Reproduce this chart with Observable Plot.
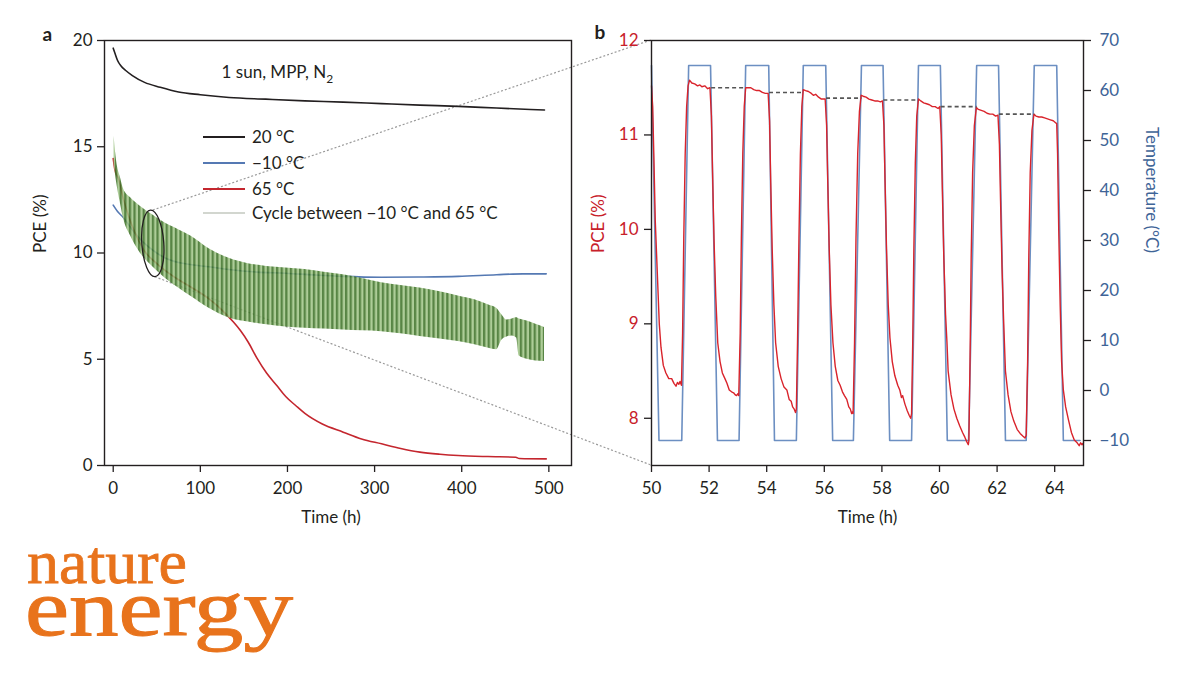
<!DOCTYPE html>
<html><head><meta charset="utf-8">
<script src="https://cdn.jsdelivr.net/npm/d3@7"></script>
<script src="https://cdn.jsdelivr.net/npm/@observablehq/plot@0.6"></script>
<style>
body{margin:0;background:#fff;}
#root{position:relative;width:1200px;height:676px;overflow:hidden;background:#fff;}
#root > svg{position:absolute;top:0;}
</style></head><body><div id="root"></div>
<script>
// ---------- Panel a data ----------
const timeTicksA = [0, 100, 200, 300, 400, 500];
const pceTicksA = [0, 5, 10, 15, 20];
const pce20C = [[0,19.64],[2,19.4],[5,19.06],[9,18.8],[14,18.6],[22,18.35],[36,18.03],[54,17.8],[75,17.58],[100,17.45],[133,17.32],[175,17.24],[220,17.16],[264,17.1],[308,17.03],[352,16.96],[396,16.9],[440,16.82],[495,16.73]];
const pceMinus10C = [[0,12.25],[5,11.95],[12,11.65],[20,11.2],[31,10.65],[45,10.15],[58,9.8],[75,9.55],[90,9.45],[110,9.35],[133,9.22],[165,9.1],[198,9.05],[230,8.97],[264,8.9],[308,8.86],[350,8.87],[396,8.9],[440,8.98],[470,9.02],[497,9.02]];
const pce65C = [[0,14.45],[2,13.9],[6,13.5],[12,12.5],[18,11.7],[24,11.05],[35,10.15],[50,9.5],[69,8.9],[89,8.4],[108,7.9],[120,7.5],[130,7.1],[138,6.75],[146,6.35],[155,5.8],[165,5.05],[176,4.35],[188,3.75],[198,3.25],[210,2.8],[220,2.45],[240,1.95],[264,1.57],[285,1.25],[308,1.02],[330,0.8],[352,0.63],[375,0.53],[396,0.47],[430,0.42],[462,0.39],[466,0.33],[497,0.31]];
const bandTime = [1,4,8,12,20,31,45,60,75,89,110,133,155,176,198,220,242,264,286,308,330,352,375,396,415,431,440,446,452,458,463,466,475,485,495];
const bandLow  = [14.2,13.3,12.4,11.6,10.8,10.0,9.37,8.8,8.35,7.96,7.4,6.94,6.75,6.62,6.52,6.46,6.42,6.38,6.34,6.3,6.2,6.07,5.95,5.83,5.68,5.52,5.45,5.9,6.05,6.1,6.0,5.15,5.0,4.92,4.9];
const bandHigh = [15.5,14.3,13.6,13.0,12.6,12.2,11.8,11.4,11.1,10.8,10.2,9.75,9.5,9.37,9.3,9.22,9.1,8.98,8.8,8.6,8.47,8.35,8.18,7.98,7.8,7.55,7.4,7.1,6.85,6.9,6.95,6.9,6.8,6.65,6.5];
const zoomWindow = {t: 46, pce: 10.43, halfT: 12.6, halfPce: 1.57};
const legendLabels = ["20 °C", "\u221210 °C", "65 °C", "Cycle between \u221210 °C and 65 °C"];

// ---------- Panel b data ----------
const timeTicksB = [50, 52, 54, 56, 58, 60, 62, 64];
const pceTicksB = [8, 9, 10, 11, 12];
const tempTicks = [-10, 0, 10, 20, 30, 40, 50, 60, 70];
const tempTime  = [50,50.26,51.05,51.29,52.05,52.29,53.04,53.27,54.07,54.27,55.03,55.27,56.05,56.29,57.01,57.29,58.04,58.27,59.03,59.27,60.03,60.27,61.01,61.29,62.05,62.29,63.01,63.29,64.07,64.3,64.88];
const tempValue = [65,-10,-10,65,65,-10,-10,65,65,-10,-10,65,65,-10,-10,65,65,-10,-10,65,65,-10,-10,65,65,-10,-10,65,65,-10,-10];
const pceCycling = [
 [50.00,11.52],[50.04,11.3],[50.08,10.8],[50.13,10.1],[50.2,9.55],[50.27,9.0],[50.33,8.75],[50.41,8.56],[50.5,8.48],[50.6,8.42],[50.7,8.42],[50.78,8.37],[50.85,8.34],[50.9,8.38],[50.95,8.36],[50.99,8.39],[51.04,8.35],
 [51.08,8.9],[51.12,9.9],[51.17,10.8],[51.22,11.3],[51.27,11.52],[51.32,11.58],
 [51.4,11.55],[51.5,11.54],[51.6,11.52],[51.68,11.53],[51.75,11.51],[51.85,11.52],[51.95,11.49],[52.03,11.5],
 [52.08,11.2],[52.12,10.6],[52.17,9.9],[52.23,9.3],[52.3,8.8],[52.38,8.6],[52.46,8.48],[52.55,8.42],[52.62,8.37],[52.7,8.3],[52.78,8.28],[52.85,8.27],[52.9,8.25],[52.95,8.24],[53.0,8.26],[53.03,8.24],
 [53.08,8.9],[53.12,9.9],[53.17,10.8],[53.22,11.3],[53.27,11.5],
 [53.35,11.5],[53.45,11.5],[53.55,11.48],[53.65,11.47],[53.75,11.47],[53.85,11.45],[53.95,11.44],[54.05,11.44],
 [54.1,11.15],[54.14,10.5],[54.19,9.8],[54.25,9.2],[54.31,8.8],[54.4,8.55],[54.5,8.42],[54.6,8.33],[54.7,8.3],[54.78,8.2],[54.85,8.18],[54.9,8.12],[54.95,8.1],[55.0,8.06],[55.03,8.1],
 [55.07,8.8],[55.12,9.9],[55.17,10.8],[55.22,11.3],[55.27,11.48],
 [55.35,11.47],[55.45,11.46],[55.55,11.44],[55.62,11.42],[55.7,11.43],[55.8,11.4],[55.9,11.38],[56.03,11.38],
 [56.08,11.1],[56.12,10.5],[56.17,9.8],[56.23,9.2],[56.3,8.8],[56.38,8.55],[56.47,8.4],[56.55,8.35],[56.63,8.28],[56.7,8.24],[56.78,8.2],[56.85,8.12],[56.9,8.1],[56.95,8.05],[56.98,8.07],[57.0,8.05],
 [57.05,8.8],[57.1,9.9],[57.16,10.8],[57.22,11.25],[57.28,11.42],
 [57.35,11.41],[57.45,11.4],[57.55,11.38],[57.65,11.37],[57.75,11.36],[57.85,11.36],[57.95,11.35],[58.02,11.36],
 [58.07,11.1],[58.11,10.5],[58.16,9.8],[58.22,9.2],[58.28,8.85],[58.36,8.6],[58.45,8.45],[58.55,8.35],[58.62,8.3],[58.68,8.22],[58.72,8.24],[58.8,8.15],[58.88,8.08],[58.95,8.03],[59.0,8.0],[59.03,8.05],
 [59.07,8.8],[59.11,9.8],[59.16,10.7],[59.21,11.2],[59.27,11.38],
 [59.35,11.36],[59.45,11.34],[59.55,11.33],[59.65,11.32],[59.75,11.3],[59.85,11.3],[59.95,11.28],[60.01,11.3],
 [60.06,11.0],[60.1,10.4],[60.15,9.7],[60.21,9.1],[60.26,8.8],[60.3,8.5],[60.4,8.25],[60.5,8.1],[60.6,8.0],[60.7,7.92],[60.8,7.85],[60.88,7.8],[60.95,7.75],[61.0,7.72],[61.02,7.76],
 [61.06,8.6],[61.1,9.7],[61.15,10.6],[61.21,11.1],[61.28,11.29],
 [61.35,11.27],[61.45,11.26],[61.55,11.25],[61.65,11.23],[61.75,11.22],[61.85,11.22],[61.95,11.2],[62.03,11.21],
 [62.08,10.9],[62.12,10.3],[62.17,9.6],[62.23,9.0],[62.29,8.5],[62.38,8.25],[62.48,8.07],[62.58,7.97],[62.7,7.88],[62.8,7.84],[62.9,7.81],[62.97,7.79],[63.01,7.82],
 [63.06,8.6],[63.1,9.7],[63.15,10.6],[63.21,11.05],[63.28,11.22],
 [63.35,11.2],[63.45,11.19],[63.55,11.19],[63.65,11.18],[63.75,11.17],[63.85,11.16],[63.95,11.15],[64.03,11.13],[64.07,11.12],
 [64.1,10.8],[64.14,10.0],[64.19,9.2],[64.24,8.6],[64.3,8.3],[64.38,8.12],[64.48,7.98],[64.58,7.85],[64.68,7.77],[64.78,7.74],[64.85,7.71],[64.9,7.74],[64.95,7.72],[65.0,7.74]
];
const dashStart = [52.07, 54.08, 56.06, 58.05, 60.04, 62.06];
const dashEnd   = [53.27, 55.27, 57.29, 59.27, 61.29, 63.29];
const dashLevel = [11.5, 11.45, 11.39, 11.37, 11.3, 11.22];

// ---------- drawing ----------
const FONT = "Lato, 'Open Sans', 'DejaVu Sans', sans-serif";
const INK = "#231f20", BLUE_A = "#5579b3", RED_A = "#c4262e", BLUE_B = "#6c8fc2", RED_B = "#d9232b";
const PCE_RED = "#c8202a", TEMP_BLUE = "#3e6497";
const rows = a => a.map(([t, v]) => ({t, v}));
const bandRows = bandTime.map((t, i) => ({t, lo: bandLow[i], hi: bandHigh[i]}));
const root = document.getElementById("root");
const fmtInt = d => String(Math.round(d)).replace("-", "\u2212");

const plotA = Plot.plot({
  width: 600, height: 545,
  marginLeft: 104, marginRight: 29, marginTop: 40, marginBottom: 80,
  style: {background: "transparent", fontFamily: FONT, fontSize: "17px", color: INK},
  x: {domain: [-10, 526]},
  y: {domain: [0, 20]},
  marks: [
    Plot.line(rows(pce20C), {x: "t", y: "v", stroke: INK, strokeWidth: 1.6, curve: "monotone-x"}),
    Plot.line(rows(pceMinus10C), {x: "t", y: "v", stroke: BLUE_A, strokeWidth: 1.6, curve: "monotone-x"}),
    Plot.line(rows(pce65C), {x: "t", y: "v", stroke: RED_A, strokeWidth: 1.6, curve: "monotone-x"}),
    Plot.areaY(bandRows, {x: "t", y1: "lo", y2: "hi", fill: "url(#stripes)", fillOpacity: 0.85, curve: "monotone-x"}),
    Plot.frame({stroke: INK, strokeWidth: 1.4}),
    Plot.axisX({ticks: timeTicksA, tickFormat: fmtInt, tickSize: 7, tickPadding: 9, label: null, stroke: INK, strokeWidth: 1.3}),
    Plot.axisY({ticks: pceTicksA, tickFormat: fmtInt, tickSize: 7, tickPadding: 5, label: null, stroke: INK, strokeWidth: 1.3}),
    Plot.text([{t: 250}], {x: "t", frameAnchor: "bottom", dy: 57, text: () => "Time (h)"}),
    Plot.text(["PCE (%)"], {frameAnchor: "left", dx: -64, rotate: -90}),
    Plot.text(["a"], {frameAnchor: "top-left", dx: -62, dy: -13, fontWeight: "bold", fontSize: 19})
  ]
});
plotA.style.left = "0px"; plotA.style.zIndex = 2;

const tMin = -15, tMax = 70, pMin = 7.5, pMax = 12;
const toPce = T => pMin + (T - tMin) * (pMax - pMin) / (tMax - tMin);
const toTemp = p => tMin + (p - pMin) * (tMax - tMin) / (pMax - pMin);
const tempRows = tempTime.map((t, i) => ({t, v: toPce(tempValue[i])}));
const dashRows = dashStart.map((x1, i) => ({x1, x2: dashEnd[i], y: dashLevel[i]}));

const plotB = Plot.plot({
  width: 620, height: 545,
  marginLeft: 71, marginRight: 117, marginTop: 40, marginBottom: 80,
  style: {background: "transparent", fontFamily: FONT, fontSize: "17px", color: INK},
  x: {domain: [50, 65]},
  y: {domain: [pMin, pMax]},
  marks: [
    Plot.line(tempRows, {x: "t", y: "v", stroke: BLUE_B, strokeWidth: 1.6}),
    Plot.line(rows(pceCycling), {x: "t", y: "v", stroke: RED_B, strokeWidth: 1.4}),
    Plot.link(dashRows, {x1: "x1", x2: "x2", y1: "y", y2: "y", stroke: "#555", strokeWidth: 1.6, strokeDasharray: "4,3"}),
    Plot.frame({stroke: INK, strokeWidth: 1.4}),
    Plot.axisX({ticks: timeTicksB, tickFormat: fmtInt, tickSize: 7, tickPadding: 9, label: null, stroke: INK, strokeWidth: 1.3}),
    Plot.axisY({ticks: pceTicksB, tickFormat: fmtInt, tickSize: 7, tickPadding: 6, label: null, stroke: INK, fill: PCE_RED, strokeWidth: 1.3}),
    Plot.axisY({anchor: "right", ticks: tempTicks.map(toPce), tickFormat: d => fmtInt(toTemp(d)),
      tickSize: 7, tickPadding: 9, label: null, stroke: INK, fill: TEMP_BLUE, strokeWidth: 1.3}),
    Plot.text([{t: 57.5}], {x: "t", frameAnchor: "bottom", dy: 57, text: () => "Time (h)"}),
    Plot.text(["PCE (%)"], {frameAnchor: "left", dx: -53, rotate: -90, fill: PCE_RED}),
    Plot.text(["Temperature (°C)"], {frameAnchor: "right", dx: 68, rotate: 90, fill: TEMP_BLUE}),
    Plot.text(["b"], {frameAnchor: "top-left", dx: -57, dy: -15, fontWeight: "bold", fontSize: 19})
  ]
});
const bLeft = 580;
plotB.style.left = bLeft + "px"; plotB.style.zIndex = 2;

// stripes pattern for the cycling band
d3.select(plotA).insert("defs", ":first-child").html(
  `<pattern id="stripes" patternUnits="userSpaceOnUse" width="4.6" height="10">
     <rect width="4.6" height="10" fill="#9fc486"/>
     <rect x="0" width="2.3" height="10" fill="#3b7025"/>
   </pattern>`);

const xA = plotA.scale("x"), yA = plotA.scale("y");
const xB = plotB.scale("x"), yB = plotB.scale("y");
const svgA = d3.select(plotA);

// annotation "1 sun, MPP, N2"
const ann = svgA.append("text").attr("x", xA.apply(125)).attr("y", yA.apply(18.5) + 6)
  .attr("text-anchor", "start").attr("font-size", 17).attr("fill", INK);
ann.append("tspan").text("1 sun, MPP, N");
ann.append("tspan").text("2").attr("font-size", 12).attr("dy", 5);

// legend
const legColors = [INK, BLUE_A, RED_A, "#d2d6cf"];
const legY = [137, 163, 189, 213];
legendLabels.forEach((lab, i) => {
  svgA.append("line").attr("x1", 203).attr("x2", 245).attr("y1", legY[i]).attr("y2", legY[i])
    .attr("stroke", legColors[i]).attr("stroke-width", 1.8);
  svgA.append("text").attr("x", 252).attr("y", legY[i]).attr("dy", "0.35em")
    .attr("text-anchor", "start").attr("font-size", 17).attr("fill", INK).text(lab);
});

// ellipse marking the zoomed window
const ecx = xA.apply(zoomWindow.t), ecy = yA.apply(zoomWindow.pce);
const erx = xA.apply(zoomWindow.t + zoomWindow.halfT) - ecx;
const ery = ecy - yA.apply(zoomWindow.pce + zoomWindow.halfPce);
svgA.append("ellipse").attr("cx", ecx).attr("cy", ecy).attr("rx", erx).attr("ry", ery)
  .attr("transform", `rotate(-4 ${ecx} ${ecy})`)
  .attr("fill", "none").attr("stroke", INK).attr("stroke-width", 1.3);

// connectors (behind both panels)
const over = d3.select(root).append("svg").attr("width", 1200).attr("height", 676)
  .style("left", "0px").style("z-index", 1);
const bx0 = bLeft + xB.apply(50);
over.append("line").attr("x1", ecx).attr("y1", ecy - ery).attr("x2", bx0).attr("y2", yB.apply(pMax))
  .attr("stroke", "#9a9a9a").attr("stroke-width", 1.2).attr("stroke-dasharray", "2,2");
over.append("line").attr("x1", ecx + 2).attr("y1", ecy + ery).attr("x2", bx0).attr("y2", yB.apply(pMin))
  .attr("stroke", "#9a9a9a").attr("stroke-width", 1.2).attr("stroke-dasharray", "2,2");

// journal logo (one text element, two lines)
const logo = d3.select(root).append("svg").attr("width", 1200).attr("height", 676)
  .style("left", "0px").style("z-index", 3).style("pointer-events", "none");
const logoText = logo.append("text").attr("font-family", "'Liberation Serif', 'DejaVu Serif', serif")
  .attr("fill", "#e8731c").attr("stroke", "#e8731c").attr("lengthAdjust", "spacingAndGlyphs");
logoText.append("tspan").attr("x", 27).attr("y", 583).attr("font-size", 62).attr("stroke-width", 0.8)
  .attr("textLength", 160).attr("lengthAdjust", "spacingAndGlyphs").text("nature");
logoText.append("tspan").attr("x", 25).attr("y", 635).attr("font-size", 80).attr("stroke-width", 1)
  .attr("textLength", 268).attr("lengthAdjust", "spacingAndGlyphs").text("energy");

root.appendChild(plotA);
root.appendChild(plotB);
</script></body></html>
